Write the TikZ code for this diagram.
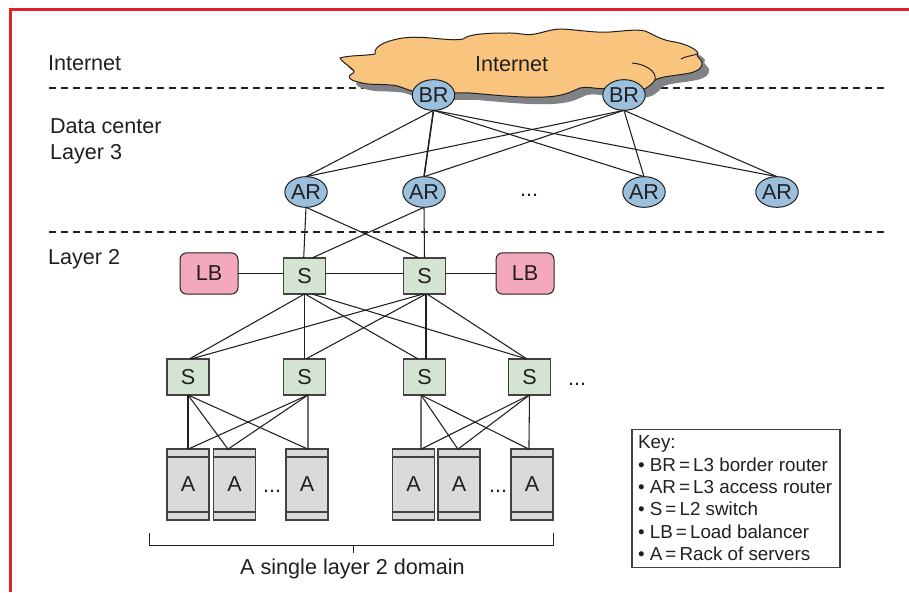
\documentclass[tikz,border=0pt]{standalone}
\usepackage{fontspec}
\setmainfont{Liberation Sans}
\usetikzlibrary{shapes.geometric}
\definecolor{redline}{HTML}{E4202C}
\definecolor{cloudfill}{HTML}{F9C47E}
\definecolor{cloudshadow}{HTML}{808285}
\definecolor{routerblue}{HTML}{9BC0DE}
\definecolor{switchgreen}{HTML}{D4E4D2}
\definecolor{lbpink}{HTML}{F3A9BB}
\definecolor{rackgray}{HTML}{D9DADC}
\definecolor{ink}{HTML}{231F20}
\tikzset{
  x=0.75pt,y=-0.75pt,
  every node/.style={text=ink,inner sep=0pt,outer sep=0pt,font=\fontsize{16.2}{18}\selectfont},
  router/.style={ellipse,draw=ink,line width=0.75pt,fill=routerblue,minimum width=29pt,minimum height=23pt},
  switchbox/.style={rectangle,draw=ink!85,line width=1.1pt,fill=switchgreen,minimum width=31.5pt,minimum height=27pt},
  lbbox/.style={rectangle,rounded corners=5pt,draw=ink,line width=0.75pt,fill=lbpink,minimum width=43.5pt,minimum height=31pt},
  rackbox/.style={rectangle,draw=ink!85,line width=1.1pt,fill=rackgray,minimum width=31.5pt,minimum height=53pt,
    path picture={
      \draw[ink!85,line width=1.1pt] ([yshift=-6pt]path picture bounding box.north west) -- ([yshift=-6pt]path picture bounding box.north east);
      \draw[ink!85,line width=1.1pt] ([yshift=6pt]path picture bounding box.south west) -- ([yshift=6pt]path picture bounding box.south east);
    }},
  link/.style={draw=ink,line width=0.8pt},
  divider/.style={draw=ink,line width=1.1pt,dash pattern=on 5.4pt off 3.6pt},
  plain/.style={anchor=base west},
  dots/.style={anchor=base},
  cloudpath/.style={line join=round},
}
\begin{document}
\begin{tikzpicture}
\useasboundingbox (0,0) rectangle (909,592);
\fill[white] (0,0) rectangle (909,592);
% frame
\draw[redline,line width=2.1pt] (909,9.5) -- (10.3,9.5) -- (10.3,592);
% dividers
\coordinate (d1a) at (49,88); \coordinate (d1b) at (885,88);
\coordinate (d2a) at (49,232); \coordinate (d2b) at (885,232);
\draw[divider] (d1a) -- (d1b);
\draw[divider] (d2a) -- (d2b);
% cloud
\def\cloudshape{(340,58) .. controls (350,55) and (365,56) .. (375,54)
  .. controls (373,45) and (390,40) .. (403,38)
  .. controls (425,35) and (450,42) .. (463,39)
  .. controls (470,33) and (495,33) .. (510,33)
  .. controls (520,33) and (528,36) .. (535,34)
  .. controls (545,32) and (552,29) .. (562,29)
  .. controls (580,30) and (595,33) .. (610,32)
  .. controls (625,31) and (635,29) .. (645,31)
  .. controls (655,35) and (660,40) .. (675,42)
  .. controls (685,44) and (695,48) .. (698,53)
  .. controls (695,56) and (700,58) .. (702,62)
  .. controls (703,68) and (698,71) .. (690,73)
  .. controls (675,76) and (662,76) .. (655,80)
  .. controls (650,87) and (645,90) .. (635,91)
  .. controls (625,90) and (618,84) .. (607,88)
  .. controls (597,90) and (590,86) .. (580,88)
  .. controls (570,92) and (565,96) .. (545,97)
  .. controls (520,98) and (495,95) .. (470,93)
  .. controls (450,92) and (435,95) .. (417,92)
  .. controls (405,90) and (400,85) .. (390,85)
  .. controls (380,84) and (370,85) .. (362,83)
  .. controls (352,81) and (347,78) .. (350,75)
  .. controls (354,73) and (356,71) .. (352,69)
  .. controls (348,65) and (342,62) .. (340,58) -- cycle}
\fill[cloudshadow,shift={(7,7)}] \cloudshape;
\path[draw=ink,line width=0.75pt,fill=cloudfill,cloudpath] \cloudshape;
\draw[ink,line width=0.75pt] (632,63) .. controls (645,64) and (657,71) .. (655,80);
\draw[ink,line width=0.75pt] (681,59) .. controls (686,56) and (692,56) .. (697,54);
\node[plain] (cloudlabel) at (475,71.5) {Internet};
% routers
\node[router] (BR1) at (433.5,95) {BR};
\node[router] (BR2) at (624,95) {BR};
\node[router] (AR1) at (306,192) {AR};
\node[router] (AR2) at (424,192) {AR};
\node[router] (AR3) at (644,192) {AR};
\node[router] (AR4) at (777,192) {AR};
% switches
\node[switchbox] (S1) at (304.5,276) {S};
\node[switchbox] (S2) at (424.5,276) {S};
\node[lbbox] (LB1) at (209,273.5) {LB};
\node[lbbox] (LB2) at (525,273.5) {LB};
\node[switchbox] (M1) at (188,377) {S};
\node[switchbox] (M2) at (304.5,377) {S};
\node[switchbox] (M3) at (424.5,377) {S};
\node[switchbox] (M4) at (529.5,377) {S};
% racks
\node[rackbox] (R1) at (188,484.5) {A};
\node[rackbox] (R2) at (234.5,484.5) {A};
\node[rackbox] (R3) at (307,484.5) {A};
\node[rackbox] (R4) at (413.5,484.5) {A};
\node[rackbox] (R5) at (459,484.5) {A};
\node[rackbox] (R6) at (532,484.5) {A};
% links
\foreach \a in {BR1,BR2}\foreach \b in {AR1,AR2,AR3,AR4}{\draw[link] (\a.south) -- (\b.north);}
\draw[link,line width=1.1pt] (BR1.south) -- (AR2.north);
\draw[link] (AR1.south) -- ([xshift=-0.6pt]S1.north);
\draw[link] (AR2.south) -- ([xshift=5.6pt]S1.north);
\draw[link] (AR1.south) -- ([xshift=-4pt]S2.north);
\draw[link] (AR2.south) -- (S2.north);
\draw[link] (LB1.east) -- (LB1.east -| S1.west);
\draw[link] (LB1.east -| S1.east) -- (LB1.east -| S2.west);
\draw[link] (LB1.east -| S2.east) -- (LB2.west);
\draw[link] (S1.south) -- ([xshift=1pt]M1.north);
\draw[link] ([xshift=-1pt]S2.south) -- ([xshift=2.2pt]M1.north);
\draw[link] (S1.south) -- (M2.north);
\draw[link] ([xshift=1.1pt]S2.south) -- ([xshift=1pt]M2.north);
\draw[link] ([xshift=0.4pt]S1.south) -- ([xshift=-4.8pt]M3.north);
\draw[link,line width=1.1pt] ([xshift=1.1pt]S2.south) -- ([xshift=1.1pt]M3.north);
\draw[link] ([xshift=5.6pt]S1.south) -- ([xshift=-1.9pt]M4.north);
\draw[link] ([xshift=1.9pt]S2.south) -- ([xshift=-1.9pt]M4.north);
\foreach \b/\s in {R1/0,R2/-4.9,R3/0.75}{
  \draw[link] (M1.south) -- ([xshift=\s pt]\b.north);
  \draw[link] ([xshift=2.6pt]M2.south) -- ([xshift=\s pt]\b.north);}
\foreach \b/\s in {R4/5.6,R5/-0.8,R6/-2.3}{
  \draw[link] ([xshift=-2.6pt]M3.south) -- ([xshift=\s pt]\b.north);
  \draw[link] (M4.south) -- ([xshift=\s pt]\b.north);}
% dots
\node[dots] (dotsa) at (529,196) {...};
\node[dots] (dotsb) at (577,385) {...};
\node[dots] (dotsc) at (272,492) {...};
\node[dots] (dotsd) at (498,492) {...};
% side labels
\node[plain] (l1) at (48,70) {Internet};
\node[plain] (l2) at (50,133) {Data center};
\node[plain] (l3) at (50,159.5) {Layer 3};
\node[plain] (l4) at (48,264.5) {Layer 2};
% bracket
\coordinate (ba) at (149,533); \coordinate (bb) at (149,545); \coordinate (bc) at (553,545); \coordinate (bd) at (553,533);
\coordinate (be) at (353,545); \coordinate (bf) at (353,553);
\draw[ink,line width=0.7pt] (ba) -- (bb) -- (bc) -- (bd);
\draw[ink,line width=0.7pt] (be) -- (bf);
\node[anchor=base] (domain) at (352.5,574.5) {A single layer 2 domain};
% key
\node[draw=ink!85,line width=0.9pt,minimum width=156pt,minimum height=104pt] (keybox) at (736,498.5) {};
\node[anchor=north west,align=left,font=\fontsize{14.1}{16.75}\selectfont] (keytext) at (638,436) {Key:\\
• BR\,=\,L3 border router\\
• AR\,=\,L3 access router\\
• S\,=\,L2 switch\\
• LB\,=\,Load balancer\\
• A\,=\,Rack of servers};
\end{tikzpicture}
\end{document}
